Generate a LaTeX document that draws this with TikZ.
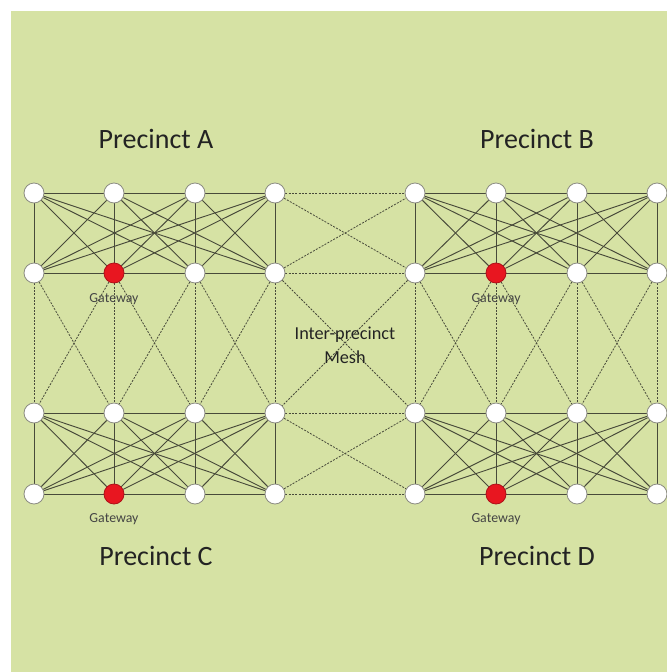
\documentclass[tikz,border=0pt]{standalone}
\usepackage{fontspec}
\setmainfont{Carlito}
\pgfdeclarelayer{bg}
\pgfdeclarelayer{edges}
\pgfsetlayers{bg,edges,main}
\definecolor{bggreen}{RGB}{214,226,164}
\definecolor{edgecol}{RGB}{72,74,58}
\definecolor{gwred}{RGB}{232,22,32}
\definecolor{txtcol}{RGB}{35,35,35}
\definecolor{nodeborder}{RGB}{140,140,130}
\begin{document}
\begin{tikzpicture}[x=0.75pt,y=-0.75pt,
  netnode/.style={circle,draw=nodeborder,fill=white,line width=0.6pt,minimum size=15pt,inner sep=0pt},
  gwnode/.style={netnode,fill=gwred,draw=gwred!75!black},
  solidedge/.style={draw=edgecol,line width=0.7pt},
  dashededge/.style={draw=edgecol,line width=0.6pt,dash pattern=on 1.5pt off 1pt},
  bigtext/.style={font=\fontsize{21}{25}\selectfont,text=txtcol,inner sep=0pt},
  gwtext/.style={font=\fontsize{10.4}{12}\selectfont,text=txtcol!85,inner sep=0pt},
  meshtext/.style={font=\fontsize{13.7}{18}\selectfont,text=txtcol,align=center,inner sep=0pt}]
\useasboundingbox (0,0) rectangle (667,672);
\begin{pgfonlayer}{bg}
\fill[bggreen] (11,11) rectangle (667,672);
\end{pgfonlayer}
% nodes
\foreach \c/\x in {1/34,2/114,3/195,4/275,5/415,6/496,7/577,8/657}{
  \foreach \r/\y in {1/193,2/273,3/413,4/494}{
    \pgfmathtruncatemacro{\isgw}{((\c==2)||(\c==6))&&((\r==2)||(\r==4))}
    \ifnum\isgw=1
      \node[gwnode] (n\r\c) at (\x,\y) {};
    \else
      \node[netnode] (n\r\c) at (\x,\y) {};
    \fi
  }
}
\begin{pgfonlayer}{edges}
% solid precinct meshes
\foreach \ra/\rb in {1/2,3/4}{
  \foreach \g in {0,4}{
    \foreach \i in {1,...,4}{
      \foreach \j in {1,...,4}{
        \pgfmathtruncatemacro{\a}{\g+\i}
        \pgfmathtruncatemacro{\b}{\g+\j}
        \draw[solidedge] (n\ra\a) -- (n\rb\b);
      }
    }
    \foreach \i in {1,2,3}{
      \pgfmathtruncatemacro{\a}{\g+\i}
      \pgfmathtruncatemacro{\b}{\g+\i+1}
      \draw[solidedge] (n\ra\a) -- (n\ra\b);
      \draw[solidedge] (n\rb\a) -- (n\rb\b);
    }
  }
}
% dashed inter-precinct mesh
\foreach \r in {1,...,4}{
  \draw[dashededge] (n\r4) -- (n\r5);
}
\draw[dashededge] (n14) -- (n25);
\draw[dashededge] (n24) -- (n15);
\draw[dashededge] (n34) -- (n45);
\draw[dashededge] (n44) -- (n35);
\foreach \c in {1,...,8}{
  \foreach \d in {-1,0,1}{
    \pgfmathtruncatemacro{\e}{\c+\d}
    \ifnum\e>0 \ifnum\e<9
      \draw[dashededge] (n2\c) -- (n3\e);
    \fi\fi
  }
}
\end{pgfonlayer}
% labels
\node[bigtext] (pA) at (156,139) {Precinct A};
\node[bigtext] (pB) at (537,139) {Precinct B};
\node[bigtext] (pC) at (156,556) {Precinct C};
\node[bigtext] (pD) at (537,556) {Precinct D};
\node[gwtext] (gA) at (114,299) {Gateway};
\node[gwtext] (gB) at (496,299) {Gateway};
\node[gwtext] (gC) at (114,519) {Gateway};
\node[gwtext] (gD) at (496,519) {Gateway};
\node[meshtext] (mesh) at (345,345) {Inter-precinct\\Mesh};
\end{tikzpicture}
\end{document}
